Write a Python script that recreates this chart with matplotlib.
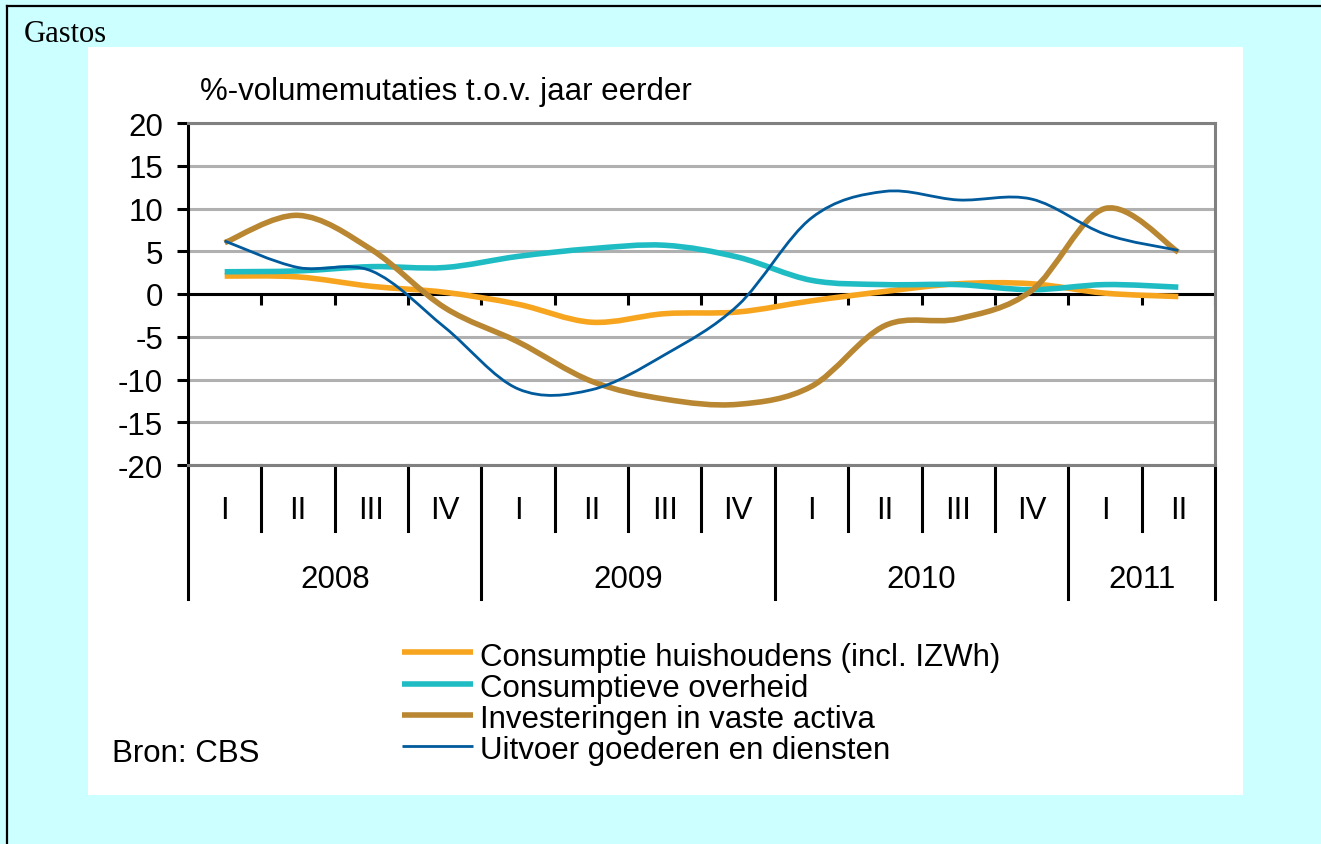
import numpy as np
import matplotlib
matplotlib.use('Agg')
import matplotlib.pyplot as plt
from matplotlib.path import Path
from matplotlib.patches import PathPatch, Rectangle
from matplotlib.lines import Line2D
import matplotlib.transforms as mtransforms

# ---------------- data ----------------
years = ['2008', '2009', '2010', '2011']
quarters_per_year = [4, 4, 4, 2]
quarter_labels = ['I', 'II', 'III', 'IV', 'I', 'II', 'III', 'IV',
                  'I', 'II', 'III', 'IV', 'I', 'II']

consumptie_huishoudens = [2.1, 2.0, 0.9, 0.2, -1.2, -3.3, -2.3, -2.1,
                          -0.8, 0.3, 1.2, 1.2, 0.1, -0.3]
consumptieve_overheid = [2.6, 2.7, 3.2, 3.1, 4.4, 5.3, 5.7, 4.3,
                         1.6, 1.1, 1.1, 0.5, 1.1, 0.8]
investeringen = [6.0, 9.2, 5.2, -1.6, -5.6, -10.2, -12.3, -12.9,
                 -10.8, -3.7, -2.9, 0.4, 10.0, 4.9]
uitvoer = [6.2, 3.1, 2.7, -3.9, -11.1, -11.2, -7.1, -1.3,
           8.9, 12.0, 11.0, 11.1, 7.0, 5.1]

series_names = ['Consumptie huishoudens (incl. IZWh)', 'Consumptieve overheid',
                'Investeringen in vaste activa', 'Uitvoer goederen en diensten']
series_values = [consumptie_huishoudens, consumptieve_overheid, investeringen, uitvoer]
series_colors = ['#F7A51F', '#20BCC4', '#B98731', '#005A9C']
series_widths = [4.0, 4.0, 4.0, 2.0]

yticks = [-20, -15, -10, -5, 0, 5, 10, 15, 20]

# ---------------- layout helpers ----------------
W, H = 1321, 845
FONT = 'Liberation Sans'
FS = 22.5


def fx(px):
    return px / W


def fy(py):
    return 1 - py / H


def smooth_path(xs, ys):
    pts = np.column_stack([xs, ys]).astype(float)
    n = len(pts)
    verts = [pts[0]]
    codes = [Path.MOVETO]
    for i in range(n - 1):
        p0 = pts[i - 1] if i > 0 else pts[i]
        p1 = pts[i]
        p2 = pts[i + 1]
        p3 = pts[i + 2] if i + 2 < n else pts[i + 1]
        c1 = p1 + (p2 - p0) / 6.0
        c2 = p2 - (p3 - p1) / 6.0
        verts += [c1, c2, p2]
        codes += [Path.CURVE4] * 3
    return Path(verts, codes)


fig = plt.figure(figsize=(W / 100, H / 100), dpi=100)
fig.patch.set_facecolor('#CCFFFF')

# white inner panel
fig.patches.append(Rectangle((fx(88), fy(796)), fx(1243) - fx(88), fy(48) - fy(796),
                             transform=fig.transFigure, facecolor='white',
                             edgecolor='none', zorder=-5))
# outer border (top and left)
fig.lines.append(Line2D([fx(7), fx(1321)], [fy(7), fy(7)], transform=fig.transFigure,
                        color='black', lw=1.6, zorder=-4))
fig.lines.append(Line2D([fx(7), fx(7)], [fy(7), fy(845)], transform=fig.transFigure,
                        color='black', lw=1.6, zorder=-4))

fig.text(fx(24), fy(42), 'Gastos', family='Liberation Serif', fontsize=22,
         va='baseline', ha='left')

# ---------------- axes ----------------
L, R, T, B = 188, 1215, 124, 466
ax = fig.add_axes([fx(L), fy(B), fx(R) - fx(L), fy(T) - fy(B)])
ax.set_zorder(1)
ax.set_facecolor('white')
n = len(quarter_labels)
ax.set_xlim(0, n)
ax.set_ylim(-20, 20)

ax.set_yticks(yticks)
ax.set_yticklabels([str(v) for v in yticks], fontsize=FS, family=FONT)
ax.tick_params(axis='y', direction='out', length=8, width=2.2, color='black', pad=10)
ax.set_xticks([])
ax.yaxis.grid(True, color='#B0B0B0', lw=2.2)
ax.set_axisbelow(True)

for s in ['top', 'bottom', 'right']:
    ax.spines[s].set_color('#808080')
    ax.spines[s].set_linewidth(2.2)
ax.spines['left'].set_color('black')
ax.spines['left'].set_linewidth(2.2)

# zero line with ticks at category boundaries
ax.axhline(0, color='black', lw=2.2, zorder=2)
ax.vlines(np.arange(1, n + 1), 0, -1.3, color='black', lw=2.2, zorder=2)

# series (smoothed)
xs = np.arange(n) + 0.5
for vals, col, lw in zip(series_values, series_colors, series_widths):
    path = smooth_path(xs, vals)
    ax.add_patch(PathPatch(path, facecolor='none', edgecolor=col, lw=lw,
                           capstyle='butt', joinstyle='round', zorder=3))

# ---------------- multi-level category axis ----------------
btr = mtransforms.blended_transform_factory(ax.transData, fig.transFigure)
year_bounds = np.concatenate([[0], np.cumsum(quarters_per_year)])
for k in range(n + 1):
    bottom = 600 if k in year_bounds else 532
    ax.add_line(Line2D([k, k], [fy(B), fy(bottom)], transform=btr, color='black',
                       lw=2.2, clip_on=False))
for i, q in enumerate(quarter_labels):
    ax.text(i + 0.5, fy(519), q, transform=btr, ha='center', va='baseline',
            fontsize=FS, family=FONT)
for j, yr in enumerate(years):
    ax.text((year_bounds[j] + year_bounds[j + 1]) / 2, fy(588), yr, transform=btr,
            ha='center', va='baseline', fontsize=FS, family=FONT)

# ---------------- titles / legend ----------------
fig.text(fx(200), fy(100), '%-volumemutaties t.o.v. jaar eerder', fontsize=FS,
         family=FONT, ha='left', va='baseline')

leg_lines = [653, 685, 716, 747]
leg_base = [666, 697, 728, 759]
for name, col, lw, ly, lb in zip(series_names, series_colors, series_widths,
                                 leg_lines, leg_base):
    fig.lines.append(Line2D([fx(402), fx(473)], [fy(ly), fy(ly)],
                            transform=fig.transFigure, color=col, lw=lw,
                            solid_capstyle='butt'))
    fig.text(fx(480), fy(lb), name, fontsize=FS, family=FONT, ha='left', va='baseline')

fig.text(fx(112), fy(762), 'Bron: CBS', fontsize=FS, family=FONT, ha='left',
         va='baseline')

fig.savefig('out.png', dpi=100, facecolor=fig.get_facecolor())
